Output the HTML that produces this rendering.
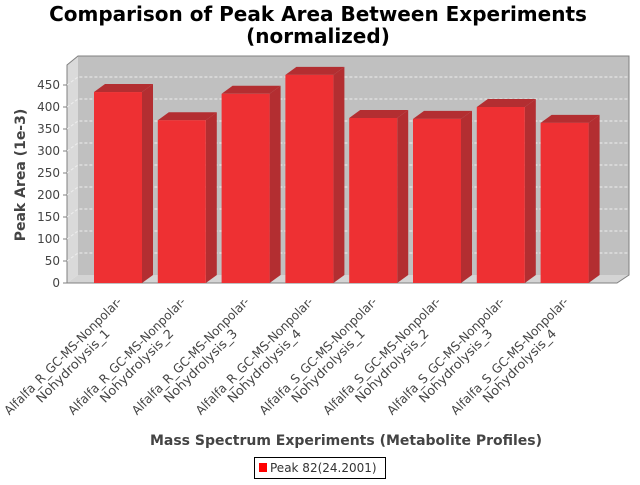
<!DOCTYPE html>
<html><head><meta charset="utf-8"><style>
body{margin:0;background:#fff}
svg text{font-family:"DejaVu Sans","Liberation Sans",sans-serif}
</style></head><body>
<svg width="640" height="480" viewBox="0 0 640 480" id="c">
<text x="318" y="21" text-anchor="middle" font-size="20" font-weight="bold">Comparison of Peak Area Between Experiments</text>
<text x="318" y="43" text-anchor="middle" font-size="20" font-weight="bold">(normalized)</text>
<g>
<polygon points="78,56 629,56 629,275 78,275" fill="#c0c0c0"/>
<polygon points="67,65 78,56 78,275 67,283" fill="#dadada"/>
<polygon points="67,283 78,275 629,275 617,283" fill="#d4d4d4"/>
<polyline points="67,283 67,65 78,56 629,56 629,275 617,283 67,283" fill="none" stroke="#808080" stroke-width="1"/>
</g>
<g id="grid"></g><g id="yax"></g><g id="bars"></g><g id="xlab"></g>
<text transform="translate(25,175) rotate(-90)" text-anchor="middle" font-size="14" font-weight="bold" fill="#444">Peak Area (1e-3)</text>
<text x="346" y="445" text-anchor="middle" font-size="14" font-weight="bold" fill="#444">Mass Spectrum Experiments (Metabolite Profiles)</text>
<g>
<rect x="254.5" y="457.5" width="131" height="21" fill="#fff" stroke="#000"/>
<rect x="259" y="463" width="8" height="9" fill="#ff0000"/>
<text x="270" y="472" font-size="12" fill="#333">Peak 82(24.2001)</text>
</g>
</svg>
<script>
const categories=["Alfalfa_R_GC-MS-Nonpolar-|Nohydrolysis_1","Alfalfa_R_GC-MS-Nonpolar-|Nohydrolysis_2","Alfalfa_R_GC-MS-Nonpolar-|Nohydrolysis_3","Alfalfa_R_GC-MS-Nonpolar-|Nohydrolysis_4","Alfalfa_S_GC-MS-Nonpolar-|Nohydrolysis_1","Alfalfa_S_GC-MS-Nonpolar-|Nohydrolysis_2","Alfalfa_S_GC-MS-Nonpolar-|Nohydrolysis_3","Alfalfa_S_GC-MS-Nonpolar-|Nohydrolysis_4"];
const values=[434,370,430,473,375,373,400,364];
const yTicks=[0,50,100,150,200,250,300,350,400,450];
const NS="http://www.w3.org/2000/svg";
const y0=283,k=0.44,DX=11,DY=8,x0=94,pitch=63.8,bw=48;
const Y=v=>y0-v*k;
const X=i=>x0+i*pitch;
function mk(t,a,p){const e=document.createElementNS(NS,t);for(const n in a)e.setAttribute(n,a[n]);p.appendChild(e);return e;}
const grid=document.getElementById('grid'),yax=document.getElementById('yax'),bars=document.getElementById('bars'),xl=document.getElementById('xlab');
yTicks.forEach(v=>{
 const y=Y(v);
 if(v>0){const g=mk('polyline',{points:`67,${y} 78,${y-DY} 629,${y-DY}`,fill:'none',stroke:'#eeeeee','stroke-dasharray':'3,2','stroke-width':1},grid);
 }
 const t=mk('line',{x1:63,y1:y,x2:67,y2:y,stroke:'#808080'},yax);
 
 const l=mk('text',{x:60,y:y+4,'text-anchor':'end','font-size':12,fill:'#444'},yax);l.textContent=v;
 
});
values.forEach((v,i)=>{
 const x=X(i),y=Y(v);
 const g=mk('g',{},bars);
 
 
 mk('polygon',{points:`${x+bw},${y} ${x+bw+DX},${y-DY} ${x+bw+DX},${y0-DY} ${x+bw},${y0}`,fill:'#b32e31'},g);
 mk('polygon',{points:`${x},${y} ${x+DX},${y-DY} ${x+bw+DX},${y-DY} ${x+bw},${y}`,fill:'#b32e31'},g);
 mk('rect',{x:x,y:y,width:bw,height:y0-y,fill:'#ee3033'},g);
 const parts=categories[i].split('|');
 const cx=x+bw/2-52,cy=359;
 const t=mk('g',{transform:`translate(${cx},${cy}) rotate(-45)`},xl);
 
 
 const a=mk('text',{x:0,y:0,'text-anchor':'middle','font-size':12.5,fill:'#444',textLength:160,lengthAdjust:'spacingAndGlyphs'},t);a.textContent=parts[0];
 const b=mk('text',{x:0,y:14,'text-anchor':'middle','font-size':12.5,fill:'#444',textLength:98,lengthAdjust:'spacingAndGlyphs'},t);b.textContent=parts[1];
});
</script>
</body></html>
